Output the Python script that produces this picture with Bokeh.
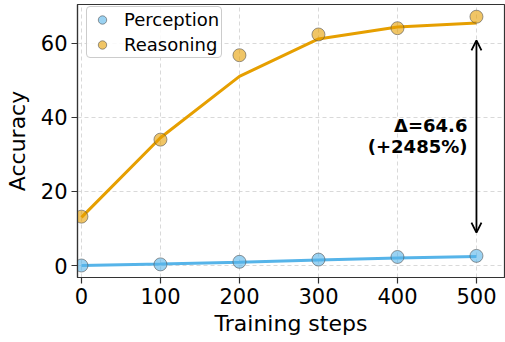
from bokeh.plotting import figure
from bokeh.models import Range1d, FixedTicker, Arrow, OpenHead, Legend, LegendItem
from bokeh.core.properties import value
from bokeh.embed import file_html
from bokeh.resources import INLINE

steps = [0, 100, 200, 300, 400, 500]
perception_pts = [0.0, 0.3, 1.0, 1.6, 2.3, 2.6]
reasoning_pts = [13.2, 34.0, 56.8, 62.4, 64.1, 67.2]
perception_line = [0.0, 0.4, 0.9, 1.5, 2.0, 2.4]
reasoning_line = [13.0, 34.5, 51.1, 61.2, 64.4, 65.5]
arrow_span = [8.9, 60.8]
x_ticks = [0, 100, 200, 300, 400, 500]
y_ticks = [0, 20, 40, 60]

BLUE = "#56B4E9"
ORANGE = "#E69F00"
FONT = "DejaVu Sans"

p = figure(width=505, height=342, output_backend="svg", toolbar_location=None,
           x_range=Range1d(-5, 535.5), y_range=Range1d(-3.24, 70.5),
           min_border_left=77, min_border_right=1, min_border_top=4, min_border_bottom=65)

p.outline_line_color = "#333333"
p.outline_line_width = 1.2
for ax in (p.xaxis[0], p.yaxis[0]):
    ax.major_label_text_font = FONT
    ax.major_label_text_font_size = "21px"
    ax.major_label_text_color = "#000000"
    ax.axis_label_text_font = FONT
    ax.axis_label_text_font_size = "22px"
    ax.axis_label_text_font_style = "normal"
    ax.axis_label_text_color = "#000000"
    ax.axis_line_color = "#333333"
    ax.axis_line_width = 1.2
    ax.major_tick_line_color = "#333333"
    ax.major_tick_line_width = 1.2
    ax.major_tick_out = 6
    ax.major_tick_in = 0
    ax.minor_tick_line_color = None
    ax.major_label_standoff = 4
p.xaxis.ticker = FixedTicker(ticks=x_ticks)
p.yaxis.ticker = FixedTicker(ticks=y_ticks)
p.xaxis.axis_label = "Training steps"
p.yaxis.axis_label = "Accuracy"
p.xaxis.axis_label_standoff = 4
p.yaxis.axis_label_standoff = 8

p.grid.grid_line_color = "#d0d0d0"
p.grid.grid_line_dash = "4 3"
p.grid.grid_line_alpha = 0.8

p.line(steps, perception_line, line_color=BLUE, line_width=3)
p.line(steps, reasoning_line, line_color=ORANGE, line_width=3)
r_p = p.scatter(steps, perception_pts, size=13, fill_color=BLUE, fill_alpha=0.6,
                line_color="#555555", line_alpha=0.6, line_width=1)
r_r = p.scatter(steps, reasoning_pts, size=13, fill_color=ORANGE, fill_alpha=0.6,
                line_color="#555555", line_alpha=0.6, line_width=1)

p.add_layout(Arrow(start=OpenHead(size=10, line_width=1.8, line_color="#000000"),
                   end=OpenHead(size=10, line_width=1.8, line_color="#000000"),
                   x_start=steps[-1], y_start=arrow_span[0], x_end=steps[-1], y_end=arrow_span[1],
                   line_width=1.8, line_color="#000000"))

delta = reasoning_pts[-1] - perception_pts[-1]
pct = delta / perception_pts[-1] * 100
p.text(x=[488.6], y=[35.0], text=[f"Δ={delta:.1f}\n(+{pct:.0f}%)"],
       text_font=value(FONT), text_font_size="18px", text_font_style="bold",
       text_align="right", text_baseline="middle", text_line_height=1.0, text_color="#000000")

legend = Legend(items=[LegendItem(label="Perception", renderers=[r_p]),
                       LegendItem(label="Reasoning", renderers=[r_r])],
                location=(9, 219))
legend.label_text_font = FONT
legend.label_text_font_size = "18px"
legend.label_text_color = "#000000"
legend.border_line_color = "#cccccc"
legend.border_line_alpha = 1
legend.border_radius = 4
legend.background_fill_alpha = 0.85
legend.glyph_width = 26
legend.glyph_height = 21
legend.label_height = 21
legend.spacing = 4
legend.padding = 2
legend.margin = 0
legend.label_standoff = 9
p.add_layout(legend)

open("out.html", "w").write(file_html(p, INLINE))
